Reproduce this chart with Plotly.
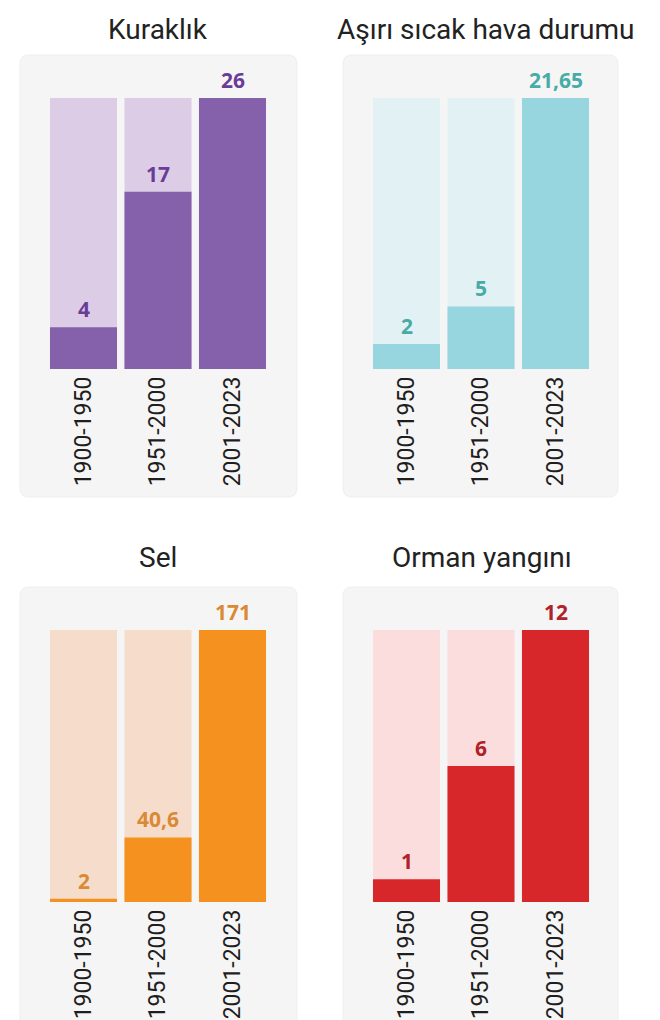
import plotly.graph_objects as go

periods = ["1900-1950", "1951-2000", "2001-2023"]
titles = ["Kuraklık", "Aşırı sıcak hava durumu", "Sel", "Orman yangını"]
kuraklik = [4, 17, 26]
asiri_sicak = [2, 5, 21.65]
sel = [2, 40.6, 171]
orman = [1, 6, 12]

series = [kuraklik, asiri_sicak, sel, orman]
dark_colors = ["#8661AB", "#97D6DF", "#F4911F", "#D8272A"]
light_colors = ["#DDCCE6", "#E2F1F3", "#F6DCCB", "#FBDDDE"]
label_colors = ["#693C98", "#47ABA6", "#D98A33", "#B0222A"]

OFF = 8  # page body margin
W, H = 660 - OFF, 1020 - OFF

# panel geometry (page pixels)
x_px = [(46.25, 269.75), (369.25, 592.75), (46.25, 269.75), (369.25, 592.75)]
y_px = [(98, 369), (98, 369), (630, 902), (630, 902)]
cards = [(20, 55, 297, 497), (343, 55, 618, 497), (20, 587, 297, 1040), (343, 587, 618, 1040)]
title_pos = [(158, 30), (486, 30), (158, 557), (482, 557)]


def fmt(v):
    return ("%g" % v).replace(".", ",")


fx = lambda px: (px - OFF) / W
fy = lambda py: 1 - (py - OFF) / H

fig = go.Figure()
shapes = []
annotations = []

for i, vals in enumerate(series):
    n = i + 1
    xa = "x" if n == 1 else f"x{n}"
    ya = "y" if n == 1 else f"y{n}"
    vmax = max(vals)
    fig.add_trace(go.Bar(x=periods, y=[vmax] * len(vals), marker=dict(color=light_colors[i], line=dict(width=0)),
                         xaxis=xa, yaxis=ya, hoverinfo="skip", showlegend=False))
    fig.add_trace(go.Bar(x=periods, y=vals, marker=dict(color=dark_colors[i], line=dict(width=0)),
                         xaxis=xa, yaxis=ya, showlegend=False))
    x0, x1 = x_px[i]
    yt, yb = y_px[i]
    axis_x = dict(domain=[fx(x0), fx(x1)], anchor=ya, range=[-0.5, 2.5], showgrid=False, zeroline=False,
                  showline=False, ticks="", tickangle=-90, ticklabelstandoff=2,
                  tickfont=dict(family="Roboto", size=23, color="#1E1E1E"))
    axis_y = dict(domain=[fy(yb), fy(yt)], anchor=xa, range=[0, vmax], showgrid=False,
                  zeroline=False, showline=False, showticklabels=False, ticks="")
    fig.update_layout(**{("xaxis" if n == 1 else f"xaxis{n}"): axis_x,
                         ("yaxis" if n == 1 else f"yaxis{n}"): axis_y})
    for p, v in zip(periods, vals):
        annotations.append(dict(x=p, y=v, xref=xa, yref=ya, text=fmt(v), showarrow=False,
                                yanchor="bottom", yshift=2,
                                font=dict(family="Open Sans", size=21, color=label_colors[i], weight="bold")))
    cx0, cy0, cx1, cy1 = cards[i]
    r = 9
    path = (f"M {fx(cx0 + r)},{fy(cy0)} L {fx(cx1 - r)},{fy(cy0)} Q {fx(cx1)},{fy(cy0)} {fx(cx1)},{fy(cy0 + r)} "
            f"L {fx(cx1)},{fy(cy1 - r)} Q {fx(cx1)},{fy(cy1)} {fx(cx1 - r)},{fy(cy1)} "
            f"L {fx(cx0 + r)},{fy(cy1)} Q {fx(cx0)},{fy(cy1)} {fx(cx0)},{fy(cy1 - r)} "
            f"L {fx(cx0)},{fy(cy0 + r)} Q {fx(cx0)},{fy(cy0)} {fx(cx0 + r)},{fy(cy0)} Z")
    shapes.append(dict(type="path", path=path, xref="paper", yref="paper", fillcolor="#F6F5F5",
                       line=dict(color="#F0EFEF", width=1), layer="below"))
    tx, ty = title_pos[i]
    annotations.append(dict(x=fx(tx), y=fy(ty), xref="paper", yref="paper", text=titles[i],
                            showarrow=False, xanchor="center", yanchor="middle",
                            font=dict(family="Roboto", size=28, color="#222222")))

fig.update_layout(width=W, height=H, margin=dict(l=0, r=0, t=0, b=0), barmode="overlay", bargap=0.1,
                  paper_bgcolor="white", plot_bgcolor="rgba(0,0,0,0)", shapes=shapes, annotations=annotations)

fig.write_html("out.html")
